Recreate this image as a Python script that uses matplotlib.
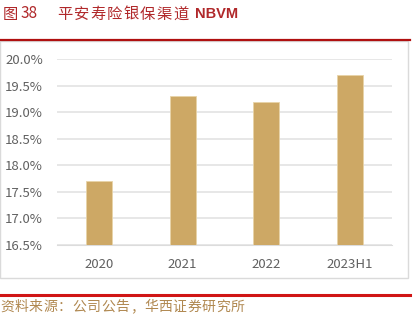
import matplotlib
matplotlib.use("Agg")
import matplotlib.pyplot as plt
from matplotlib.patches import Rectangle
from matplotlib.lines import Line2D

plt.rcParams['font.family'] = ['Noto Sans CJK SC', 'DejaVu Sans']

categories = ["2020", "2021", "2022", "2023H1"]
values = [17.7, 19.3, 19.2, 19.7]
yticks = [16.5, 17.0, 17.5, 18.0, 18.5, 19.0, 19.5, 20.0]
title_cn = "平安寿险银保渠道"
source = "资料来源：公司公告，华西证券研究所"

W, H = 420, 324
fig = plt.figure(figsize=(W / 100, H / 100), dpi=100)

# axes: x 57..392, y 59..245 (pixels from top)
ax = fig.add_axes([57 / W, 1 - 245 / H, (392 - 57) / W, (245 - 59) / H])
ax.bar(range(len(categories)), values, width=0.31, color="#CDA865",
       edgecolor="#E8D3A8", linewidth=0.6, zorder=3)
ax.set_ylim(16.5, 20.0)
ax.set_xlim(-0.5, len(categories) - 0.5)
ax.set_yticks(yticks)
ax.set_yticklabels([f"{v:.1f}%" for v in yticks])
ax.set_xticks(range(len(categories)))
ax.set_xticklabels(categories)
ax.grid(axis="y", color="#E3E3E3", linewidth=1.2, zorder=0)
for s in ax.spines.values():
    s.set_visible(False)
ax.spines["bottom"].set_visible(True)
ax.spines["bottom"].set_color("#DCDCDC")
ax.tick_params(axis="both", length=0, colors="#606060", labelsize=9.5)
ax.tick_params(axis="y", pad=10)
ax.tick_params(axis="x", pad=9)

# chart box
fig.patches.append(Rectangle((0, 1 - 278 / H), 408 / W, (278 - 41) / H,
                             transform=fig.transFigure, fill=False,
                             edgecolor="#DADADA", linewidth=1.0))

# title
tc = "#B0282A"
fig.text(3 / W, 1 - 14 / H, "图", color=tc, fontsize=11, va="center", ha="left")
fig.text(21 / W, 1 - 14 / H, "38", color=tc, fontsize=11, va="center", ha="left")
for i, ch in enumerate(title_cn):
    fig.text((57 + i * 16.6) / W, 1 - 14 / H, ch, color=tc, fontsize=11,
             va="center", ha="left")
fig.text(195 / W, 1 - 14 / H, "NBVM", color=tc, fontsize=10.5,
         va="center", ha="left", fontweight="bold",
         family=["Liberation Sans Narrow", "Liberation Sans"])

# red lines
fig.add_artist(Line2D([0, 410 / W], [1 - 39.5 / H, 1 - 39.5 / H],
                      color="#B01010", linewidth=1.6, transform=fig.transFigure))
fig.add_artist(Line2D([0, 410 / W], [1 - 295 / H, 1 - 295 / H],
                      color="#D01515", linewidth=2.2, transform=fig.transFigure))

# source
for i, ch in enumerate(source):
    fig.text((0 + i * 14.4) / W, 1 - 307 / H, ch, color="#B08850",
             fontsize=10, va="center", ha="left")

fig.savefig("out.png", dpi=100)
